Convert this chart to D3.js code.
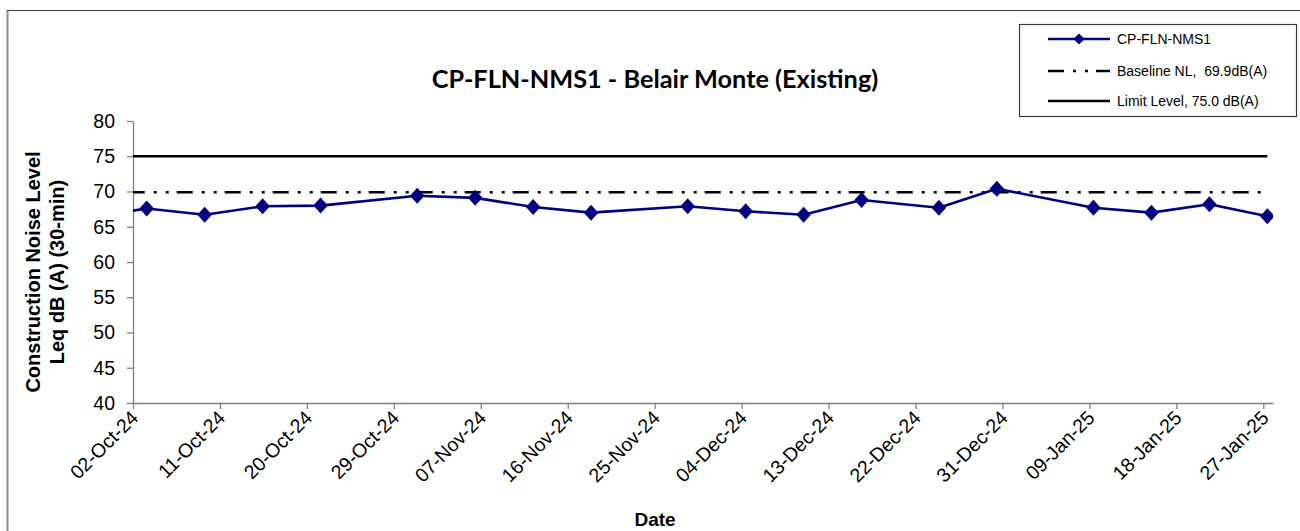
<!DOCTYPE html>
<html>
<head>
<meta charset="utf-8">
<script src="https://cdn.jsdelivr.net/npm/d3@7"></script>
<style>
  html, body { margin: 0; padding: 0; background: #fff; }
  svg { display: block; font-family: "Liberation Sans", Arial, sans-serif; }
</style>
</head>
<body>
<svg id="chart" width="1300" height="531"></svg>
<script>
// Measurement dates (day-month-year) and Leq readings, dB(A)
const sampleDates = [
  "27-Sep-24", "03-Oct-24", "09-Oct-24", "15-Oct-24", "21-Oct-24", "31-Oct-24",
  "06-Nov-24", "12-Nov-24", "18-Nov-24", "28-Nov-24", "04-Dec-24", "10-Dec-24",
  "16-Dec-24", "24-Dec-24", "30-Dec-24", "09-Jan-25", "15-Jan-25", "21-Jan-25",
  "27-Jan-25"
];
const leqValues = [
  66.3, 67.6, 66.7, 67.9, 68.0, 69.4,
  69.1, 67.8, 67.0, 67.9, 67.2, 66.7,
  68.8, 67.7, 70.4, 67.7, 67.0, 68.2,
  66.5
];
const baselineLevel = 69.9;
const limitLevel = 75.0;

// Axis tick labels
const dateTicks = [
  "02-Oct-24", "11-Oct-24", "20-Oct-24", "29-Oct-24", "07-Nov-24", "16-Nov-24",
  "25-Nov-24", "04-Dec-24", "13-Dec-24", "22-Dec-24", "31-Dec-24", "09-Jan-25",
  "18-Jan-25", "27-Jan-25"
];
const levelTicks = [40, 45, 50, 55, 60, 65, 70, 75, 80];

const seriesName = "CP-FLN-NMS1";
const legendLabels = [seriesName, "Baseline NL,  69.9dB(A)", "Limit Level, 75.0 dB(A)"];

const parseDay = d3.timeParse("%d-%b-%y");
// readings were taken mid-morning
const sampleTimes = sampleDates.map(s => d3.timeHour.offset(parseDay(s), 10));
const points = sampleTimes.map((t, i) => ({ t, v: leqValues[i] }));

const svg = d3.select("#chart");
const plot = { left: 133, right: 1273, top: 121, bottom: 403 };

// outer chart frame
svg.append("line").attr("x1", 7.5).attr("x2", 7.5).attr("y1", 10).attr("y2", 531)
  .attr("stroke", "#8a8a8a").attr("stroke-width", 2);
svg.append("line").attr("x1", 7).attr("x2", 1300).attr("y1", 10.5).attr("y2", 10.5)
  .attr("stroke", "#3a3a3a").attr("stroke-width", 1.2);

const x = d3.scaleTime()
  .domain([parseDay("02-Oct-24"), parseDay("28-Jan-25")])
  .range([plot.left, plot.right]);
const y = d3.scaleLinear()
  .domain([40, 80])
  .range([plot.bottom, plot.top]);

// clip series to the plot area
svg.append("defs").append("clipPath").attr("id", "plotClip")
  .append("rect")
  .attr("x", plot.left).attr("y", plot.top - 10)
  .attr("width", plot.right - plot.left).attr("height", plot.bottom - plot.top + 20);

// Y axis
const yAxis = d3.axisLeft(y).tickValues(levelTicks).tickSize(6).tickSizeOuter(0).tickPadding(12);
const gy = svg.append("g").attr("transform", `translate(${plot.left},0)`).call(yAxis);
gy.select(".domain").attr("stroke", "#808080").attr("stroke-width", 1.3);
gy.selectAll(".tick line").attr("stroke", "#808080").attr("stroke-width", 1.3);
gy.selectAll(".tick text").attr("font-size", 19.5).attr("fill", "#000")
  .attr("font-family", "'Liberation Sans', Arial, sans-serif");

// X axis
const xAxis = d3.axisBottom(x)
  .tickValues(dateTicks.map(parseDay))
  .tickFormat(d3.timeFormat("%d-%b-%y"))
  .tickSize(6).tickSizeOuter(0);
const gx = svg.append("g").attr("transform", `translate(0,${plot.bottom})`).call(xAxis);
gx.select(".domain").attr("stroke", "#808080").attr("stroke-width", 1.3);
gx.selectAll(".tick line").attr("stroke", "#808080").attr("stroke-width", 1.3);
gx.selectAll(".tick text")
  .attr("font-size", 19.5).attr("fill", "#000")
  .attr("font-family", "'Liberation Sans', Arial, sans-serif")
  .attr("text-anchor", "end")
  .attr("dy", null)
  .attr("y", 0)
  .attr("transform", "translate(6,16) rotate(-45)");

// reference lines
const span = [sampleTimes[0], sampleTimes[sampleTimes.length - 1]];
const refLine = d3.line().x(d => x(d.t)).y(d => y(d.v));
const series = svg.append("g").attr("clip-path", "url(#plotClip)");

series.append("path")
  .datum(span.map(t => ({ t, v: limitLevel })))
  .attr("d", refLine)
  .attr("fill", "none").attr("stroke", "#000").attr("stroke-width", 2.6);

series.append("path")
  .datum(span.map(t => ({ t, v: baselineLevel })))
  .attr("d", refLine)
  .attr("fill", "none").attr("stroke", "#000").attr("stroke-width", 2.6)
  .attr("stroke-dasharray", "16,9,3,9,3,8")
  .attr("stroke-dashoffset", 8);

// measured series
series.append("path")
  .datum(points)
  .attr("d", refLine)
  .attr("fill", "none").attr("stroke", "#000080").attr("stroke-width", 2.6)
  .attr("stroke-linejoin", "round");

const diamond = d3.symbol().type(d3.symbolDiamond2).size(135);
series.selectAll("path.pt")
  .data(points)
  .join("path")
  .attr("class", "pt")
  .attr("d", diamond)
  .attr("transform", d => `translate(${x(d.t)},${y(d.v)}) scale(1,1.1)`)
  .attr("fill", "#000080");

// titles
svg.append("text")
  .attr("x", 655).attr("y", 88)
  .attr("text-anchor", "middle")
  .style("font-family", "Lato, 'Open Sans', sans-serif")
  .attr("font-weight", "bold").attr("font-size", 25.3)
  .text("CP-FLN-NMS1 - Belair Monte (Existing)");

svg.append("text")
  .attr("x", 655).attr("y", 526)
  .attr("text-anchor", "middle")
  .attr("font-weight", "bold").attr("font-size", 19)
  .text("Date");

const yTitle = svg.append("text")
  .attr("transform", "translate(40,272) rotate(-90)")
  .attr("text-anchor", "middle")
  .attr("font-weight", "bold").attr("font-size", 20);
yTitle.append("tspan").attr("x", 0).attr("dy", 0).text("Construction Noise Level");
yTitle.append("tspan").attr("x", 0).attr("dy", 24).text("Leq dB (A) (30-min)");

// legend
const lg = svg.append("g");
lg.append("rect")
  .attr("x", 1019.5).attr("y", 24.5).attr("width", 277).attr("height", 92)
  .attr("fill", "#fff").attr("stroke", "#3a3a3a").attr("stroke-width", 1.2);
const rowY = [39, 71, 101];
const lx0 = 1048, lx1 = 1110;
lg.append("line").attr("x1", lx0).attr("x2", lx1).attr("y1", rowY[0]).attr("y2", rowY[0])
  .attr("stroke", "#000080").attr("stroke-width", 2.6);
lg.append("path").attr("d", d3.symbol().type(d3.symbolDiamond2).size(80))
  .attr("transform", `translate(${(lx0 + lx1) / 2},${rowY[0]})`)
  .attr("fill", "#000080");
lg.append("line").attr("x1", lx0).attr("x2", lx1).attr("y1", rowY[1]).attr("y2", rowY[1])
  .attr("stroke", "#000").attr("stroke-width", 2.6)
  .attr("stroke-dasharray", "16,9,3,9,3,8,20");
lg.append("line").attr("x1", lx0).attr("x2", lx1).attr("y1", rowY[2]).attr("y2", rowY[2])
  .attr("stroke", "#000").attr("stroke-width", 2.6);
lg.selectAll("text.lbl")
  .data(legendLabels)
  .join("text")
  .attr("class", "lbl")
  .attr("x", 1117).attr("y", (d, i) => rowY[i] + 5)
  .attr("font-size", 14)
  .style("white-space", "pre")
  .text(d => d);
</script>
</body>
</html>
